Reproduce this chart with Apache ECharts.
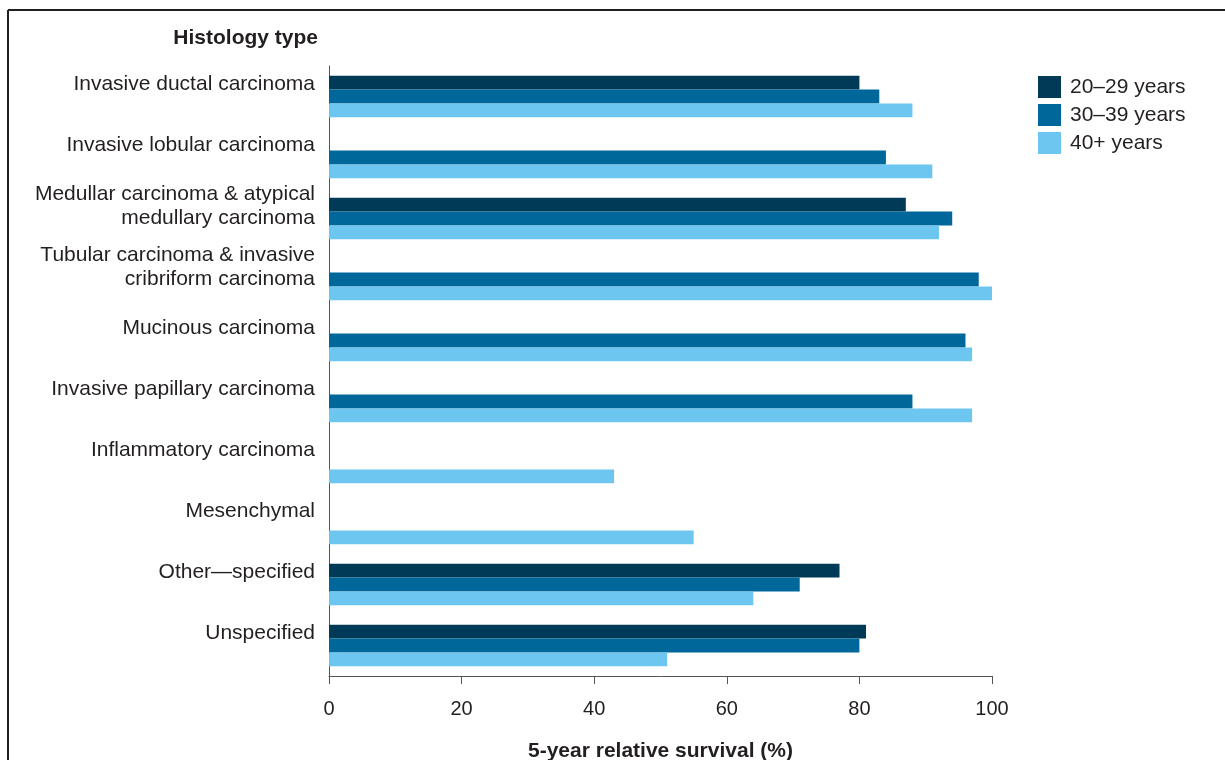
<!DOCTYPE html>
<html>
<head>
<meta charset="utf-8">
<script src="https://cdn.jsdelivr.net/npm/echarts@6/dist/echarts.min.js"></script>
<style>
html,body{margin:0;padding:0;background:#fff;}
#chart{width:1225px;height:760px;}
</style>
</head>
<body>
<div id="chart"></div>
<script>
const categories = [
  "Invasive ductal carcinoma",
  "Invasive lobular carcinoma",
  "Medullar carcinoma & atypical\nmedullary carcinoma",
  "Tubular carcinoma & invasive\ncribriform carcinoma",
  "Mucinous carcinoma",
  "Invasive papillary carcinoma",
  "Inflammatory carcinoma",
  "Mesenchymal",
  "Other\u2014specified",
  "Unspecified"
];
const seriesNames = ["20\u201329 years", "30\u201339 years", "40+ years"];
const age20to29 = [80, null, 87, null, null, null, null, null, 77, 81];
const age30to39 = [83, 84, 94, 98, 96, 88, null, null, 71, 80];
const age40plus = [88, 91, 92, 100, 97, 97, 43, 55, 64, 51];
const xTicks = [0, 20, 40, 60, 80, 100];
const yAxisTitle = "Histology type";
const xAxisTitle = "5-year relative survival (%)";

const colors = ["#003a57", "#00679a", "#6cc6ef"];
const FONT = "'Liberation Sans', Arial, sans-serif";
const TXT = "#231f20";

const chart = echarts.init(document.getElementById('chart'));
const seriesData = [age20to29, age30to39, age40plus];
chart.setOption({
  animation: false,
  textStyle: {fontFamily: FONT},
  grid: {left: 329, right: 233, top: 66, bottom: 84, containLabel: false, outerBoundsMode: 'none'},
  legend: {
    orient: 'vertical', left: 1038, top: 76, padding: 0,
    itemWidth: 23, itemHeight: 22, itemGap: 6,
    icon: 'rect',
    data: seriesNames,
    textStyle: {fontFamily: FONT, fontSize: 21, color: TXT, padding: [0,0,0,4]}
  },
  graphic: [
    {type: 'line', shape: {x1: 8, y1: 10, x2: 1225, y2: 10}, style: {stroke: '#231f20', lineWidth: 2}},
    {type: 'line', shape: {x1: 8, y1: 10, x2: 8, y2: 760}, style: {stroke: '#231f20', lineWidth: 2}},
    {type: 'text', right: 1225 - 318, top: 28, style: {text: yAxisTitle, font: "bold 21px 'Liberation Sans', Arial, sans-serif", fill: TXT}}
  ],
  xAxis: {
    type: 'value', min: 0, max: 100, interval: 20,
    name: xAxisTitle, nameLocation: 'middle', nameGap: 65,
    nameTextStyle: {fontFamily: FONT, fontSize: 21, fontWeight: 'bold', color: TXT},
    axisLine: {show: true, lineStyle: {color: '#555', width: 1}},
    axisTick: {show: true, length: 8, lineStyle: {color: '#555'}},
    axisLabel: {fontFamily: FONT, fontSize: 20, color: TXT, margin: 23,
      formatter: v => xTicks.indexOf(v) >= 0 ? String(v) : ''},
    splitLine: {show: false}
  },
  yAxis: {
    type: 'category', data: categories, inverse: true,
    axisLine: {show: true, lineStyle: {color: '#555', width: 1}},
    axisTick: {show: false},
    axisLabel: {fontFamily: FONT, fontSize: 21, color: TXT, margin: 14, lineHeight: 24,
      align: 'right', formatter: v => v + '\n'},
    splitLine: {show: false}
  },
  series: seriesNames.map((n, i) => ({
    name: n, type: 'bar', data: seriesData[i],
    barGap: '0%', barCategoryGap: '32%',
    itemStyle: {color: colors[i]}
  }))
});
</script>
</body>
</html>
